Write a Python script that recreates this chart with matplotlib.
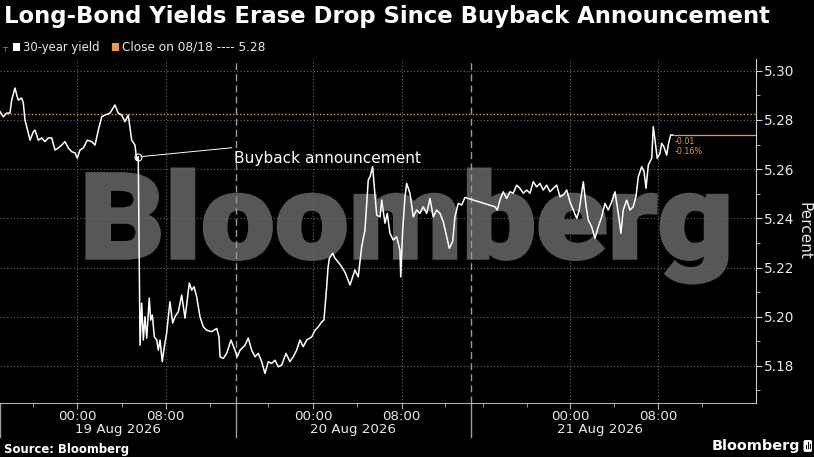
import matplotlib
matplotlib.use("Agg")
import matplotlib.pyplot as plt
from matplotlib.textpath import TextPath
from matplotlib.patches import PathPatch, Rectangle, FancyBboxPatch
from matplotlib.font_manager import FontProperties
from matplotlib.transforms import Affine2D

# ---------------- data (session hours on a compressed intraday axis) ----------------
hours = [0.00, 0.30, 0.61, 0.91, 1.06, 1.36, 1.52, 1.66, 1.97, 2.12, 2.27, 2.43, 2.73, 3.03, 3.18,
         3.48, 3.79, 4.09, 4.39, 4.70, 5.00, 5.30, 5.61, 5.91, 6.21, 6.52, 6.82, 7.03, 7.27, 7.57,
         7.94, 8.34, 8.64, 8.94, 9.25, 9.55, 10.00, 10.45, 10.75, 11.06, 11.36, 11.66, 11.97, 12.27,
         12.43, 12.57, 12.73, 12.88, 13.03, 13.18, 13.34, 13.57, 13.70, 13.85, 14.03, 14.25, 14.39,
         14.55, 14.75, 14.94, 15.15, 15.45, 15.70, 15.91, 16.21, 16.52, 16.82, 17.21, 17.43, 17.64,
         17.88, 18.18, 18.48, 18.79, 19.25, 19.70, 19.91, 20.00, 20.30, 20.61, 21.00, 21.36, 21.57,
         21.82, 22.27, 22.57, 22.88, 23.18, 23.48, 23.79, 24.09, 24.39, 24.70, 25.00, 25.30, 25.61,
         26.00, 26.36, 26.66, 26.97, 27.27, 27.57, 27.88, 28.34, 28.64, 28.94, 29.25, 29.45, 29.70,
         29.82, 29.94, 30.25, 30.45, 30.75, 31.06, 31.36, 31.82, 32.27, 32.57, 32.88, 33.18, 33.48,
         33.64, 33.88, 34.00, 34.25, 34.55, 34.70, 35.00, 35.21, 35.45, 35.75, 36.06, 36.36, 36.43,
         36.61, 36.82, 36.97, 37.27, 37.57, 37.88, 38.18, 38.48, 38.79, 39.09, 39.39, 39.70, 40.00,
         40.30, 40.61, 40.85, 41.15, 41.36, 41.66, 41.97, 42.27, 45.00, 45.21, 45.45, 45.75, 46.06,
         46.36, 46.66, 46.97, 47.27, 47.57, 47.88, 48.18, 48.48, 48.79, 49.09, 49.39, 49.70, 50.00,
         50.30, 50.61, 50.91, 51.21, 51.52, 51.82, 52.12, 52.43, 52.66, 52.88, 53.03, 53.27, 53.48,
         53.79, 54.09, 54.39, 54.70, 55.00, 55.30, 55.61, 55.91, 56.21, 56.45, 56.66, 56.97, 57.27,
         57.57, 57.82, 58.03, 58.34, 58.55, 58.73, 58.94, 59.25, 59.39, 59.55, 59.75, 60.00, 60.15,
         60.36, 60.61, 60.75, 60.97, 61.15]
yields = [5.2834, 5.2813, 5.2828, 5.2828, 5.2881, 5.2930, 5.2902, 5.2881, 5.2889, 5.2869, 5.2800,
          5.2773, 5.2718, 5.2752, 5.2759, 5.2718, 5.2727, 5.2712, 5.2727, 5.2727, 5.2678, 5.2686,
          5.2698, 5.2712, 5.2686, 5.2671, 5.2666, 5.2645, 5.2678, 5.2686, 5.2718, 5.2712, 5.2698,
          5.2759, 5.2813, 5.2820, 5.2828, 5.2861, 5.2828, 5.2820, 5.2793, 5.2820, 5.2718, 5.2698,
          5.2637, 5.2651, 5.1884, 5.2055, 5.1905, 5.2000, 5.1913, 5.2076, 5.1986, 5.2007, 5.1918,
          5.1905, 5.1864, 5.1905, 5.1817, 5.1878, 5.1933, 5.2061, 5.1974, 5.2000, 5.2020, 5.2088,
          5.1994, 5.2137, 5.2108, 5.2122, 5.2081, 5.2000, 5.1959, 5.1945, 5.1939, 5.1952, 5.1918,
          5.1837, 5.1830, 5.1851, 5.1905, 5.1864, 5.1837, 5.1864, 5.1884, 5.1913, 5.1864, 5.1837,
          5.1851, 5.1817, 5.1769, 5.1817, 5.1810, 5.1823, 5.1796, 5.1803, 5.1851, 5.1817, 5.1837,
          5.1864, 5.1905, 5.1878, 5.1905, 5.1918, 5.1945, 5.1959, 5.1979, 5.1986, 5.2122, 5.2198,
          5.2237, 5.2258, 5.2238, 5.2222, 5.2203, 5.2181, 5.2129, 5.2190, 5.2162, 5.2284, 5.2352,
          5.2556, 5.2569, 5.2610, 5.2542, 5.2413, 5.2406, 5.2474, 5.2380, 5.2420, 5.2339, 5.2312,
          5.2325, 5.2271, 5.2162, 5.2352, 5.2488, 5.2542, 5.2502, 5.2406, 5.2434, 5.2420, 5.2447,
          5.2420, 5.2481, 5.2406, 5.2434, 5.2420, 5.2386, 5.2325, 5.2278, 5.2305, 5.2406, 5.2461,
          5.2454, 5.2485, 5.2447, 5.2434, 5.2474, 5.2508, 5.2481, 5.2508, 5.2502, 5.2535, 5.2522,
          5.2502, 5.2515, 5.2502, 5.2549, 5.2528, 5.2542, 5.2515, 5.2535, 5.2508, 5.2522, 5.2535,
          5.2488, 5.2495, 5.2515, 5.2467, 5.2434, 5.2400, 5.2434, 5.2502, 5.2549, 5.2454, 5.2393,
          5.2366, 5.2319, 5.2366, 5.2406, 5.2461, 5.2434, 5.2467, 5.2508, 5.2420, 5.2339, 5.2434,
          5.2474, 5.2434, 5.2447, 5.2488, 5.2569, 5.2610, 5.2590, 5.2522, 5.2617, 5.2644, 5.2773,
          5.2718, 5.2644, 5.2664, 5.2705, 5.2691, 5.2657, 5.2698, 5.2739, 5.2739]
close_0818 = 5.2825
announce_index = 45

major_tick_pos = [7.03, 15.06, 28.48, 36.52, 51.82, 59.82]
major_tick_labels = ["00:00", "08:00", "00:00", "08:00", "00:00", "08:00"]
minor_tick_pos = [3.03, 11.06, 19.09, 24.39, 32.43, 40.45, 43.88, 47.88, 55.82, 63.82]
day_breaks = [0.0, 21.45, 42.82]
day_labels = ["19 Aug 2026", "20 Aug 2026", "21 Aug 2026"]
day_label_pos = [10.76, 32.12, 54.52]
y_ticks = [5.18, 5.20, 5.22, 5.24, 5.26, 5.28, 5.30]
y_minor = [5.17, 5.19, 5.21, 5.23, 5.25, 5.27, 5.29]
x_range = (0.0, 68.73)
y_range = (5.1649, 5.3048)

title = "Long-Bond Yields Erase Drop Since Buyback Announcement"
ORANGE = "#ee9b33"
W, H = 814, 457

plt.rcParams["font.family"] = ["DejaVu Sans"]
fig = plt.figure(figsize=(W / 100, H / 100), dpi=100, facecolor="black")


def fx(x):
    return x / W


def fy(y):
    return 1 - y / H


ax = fig.add_axes([0, 54 / H, 756 / W, 344 / H])
ax.set_facecolor("black")
ax.set_xlim(*x_range)
ax.set_ylim(*y_range)
ax.set_axisbelow(True)

# watermark
tp = TextPath((0, 0), "Bloomberg", size=100, prop=FontProperties(family="Roboto", weight=900))
ext = tp.get_extents()
wx0, wx1, wy0, wy1 = 87, 727, H - 283, H - 169
tr = Affine2D().translate(-ext.x0, -ext.y0).scale((wx1 - wx0) / ext.width,
                                                    (wy1 - wy0) / ext.height).translate(wx0, wy0)
wm = PathPatch(tp, transform=tr, facecolor="#575757", edgecolor="#575757", linewidth=2.2,
               zorder=0.2)
ax.add_artist(wm)

# grid
ax.grid(True, which="major", axis="both", color="#6a6a6a", linestyle=(0, (1, 2)), linewidth=0.8)

# day separators
for i, b in enumerate(day_breaks):
    if b > x_range[0]:
        ax.axvline(b, color="#9a9a9a", linestyle=(0, (5, 3)), linewidth=1.0, zorder=1)
    ax.plot([b, b], [-0.10, 0], transform=ax.get_xaxis_transform(), color="#9a9a9a",
            linewidth=1.0, clip_on=False)

# close line
ax.axhline(close_0818, color=ORANGE, linestyle=(0, (1, 1.5)), linewidth=1.0, zorder=2)

# series
ax.plot(hours, yields, color="white", linewidth=1.1, zorder=3)

# last value marker
last_h, last_v = hours[-1], yields[-1]
ax.plot([last_h, x_range[1]], [last_v, last_v], color=ORANGE, linewidth=0.9, zorder=2)
chg = last_v - close_0818
pct = chg / close_0818 * 100
ax.text(last_h + 0.2, 5.2714, f"{chg:.2f}", color=ORANGE, fontsize=5.8, va="center", ha="left")
ax.text(last_h + 0.2, 5.2670, f"{pct:.2f}%", color=ORANGE, fontsize=5.8, va="center", ha="left")

# annotation
ah, av = hours[announce_index], yields[announce_index]
ax.plot([ah], [av], marker="o", markersize=5, markerfacecolor="none", markeredgecolor="white",
        markeredgewidth=0.8, zorder=4)
ax.plot([ah + 0.25, 21.06], [av, 5.2687], color="white", linewidth=0.7, zorder=4)
ann = ax.text(21.27, 5.2625, "Buyback announcement", color="white", fontsize=11.2, va="baseline",
              ha="left", zorder=5)

# axes styling
for s in ["top", "left"]:
    ax.spines[s].set_visible(False)
ax.spines["right"].set_color("#cfcfcf")
ax.spines["bottom"].set_color("#b0b0b0")
ax.yaxis.tick_right()
ax.set_yticks(y_ticks)
ax.set_yticklabels([f"{v:.2f}" for v in y_ticks])
ax.set_yticks(y_minor, minor=True)
ax.set_xticks(major_tick_pos)
ax.set_xticklabels(major_tick_labels)
ax.set_xticks(minor_tick_pos, minor=True)
ax.tick_params(axis="y", which="major", length=4, color="#cfcfcf", labelcolor="#e8e8e8",
               labelsize=9.8, pad=2)
ax.tick_params(axis="y", which="minor", length=3, color="#cfcfcf")
ax.tick_params(axis="x", which="major", length=4, color="#b0b0b0", labelcolor="#e8e8e8",
               labelsize=9.6, pad=1)
ax.tick_params(axis="x", which="minor", length=3, color="#b0b0b0")
ax.yaxis.set_label_position("right")
ax.set_ylabel("Percent", color="#e8e8e8", fontsize=11, rotation=-90, labelpad=12)

for p, lab in zip(day_label_pos, day_labels):
    ax.text(p, -(430 - 403) / 344, lab, transform=ax.get_xaxis_transform(), ha="center",
            va="center", color="#e8e8e8", fontsize=9.6)

# title & legend
t_title = fig.text(fx(4), fy(16), title, color="white", fontsize=16.5, fontweight="bold",
                   va="center", ha="left")
fig.text(fx(5), fy(47.5), "\u252c", color="#8a8a8a", fontsize=6, va="center", ha="center")
fig.add_artist(Rectangle((fx(12.7), fy(50.7)), 7.3 / W, 7.3 / H, transform=fig.transFigure,
                         facecolor="white", edgecolor="none"))
leg1 = fig.text(fx(22.7), fy(47), "30-year yield", color="#e8e8e8", fontsize=8.3, va="center",
                ha="left")
fig.add_artist(Rectangle((fx(111.7), fy(50.7)), 7.3 / W, 7.3 / H, transform=fig.transFigure,
                         facecolor=ORANGE, edgecolor="none"))
leg2 = fig.text(fx(121.7), fy(47), f"Close on 08/18 ---- {close_0818:.2f}", color="#e8e8e8",
                fontsize=8.3, va="center", ha="left")

# footer
src = fig.text(fx(4), fy(452.5), "Source: Bloomberg", color="white", fontsize=8.4,
               fontweight="bold", va="baseline", ha="left")
logo = fig.text(fx(800), fy(446), "Bloomberg", color="white", fontsize=10.3, fontweight="bold",
                va="center", ha="right")
fig.add_artist(FancyBboxPatch((fx(803.5), fy(452)), 8.5 / W, 12 / H, transform=fig.transFigure,
                              boxstyle="round,pad=0,rounding_size=0.003", facecolor="white",
                              edgecolor="none"))
for bx, bh in [(805.5, 4), (807.5, 7), (809.5, 5)]:
    fig.add_artist(Rectangle((fx(bx), fy(449)), 1.2 / W, bh / H, transform=fig.transFigure,
                             facecolor="black", edgecolor="none"))

# fit widths of texts to the reference
fig.canvas.draw()
r = fig.canvas.get_renderer()
for t, target in [(t_title, 763), (ann, 186), (leg1, 76.5), (leg2, 141.5), (src, 125), (logo, 88)]:
    w = t.get_window_extent(r).width
    t.set_fontsize(t.get_fontsize() * target / w)

fig.savefig("out.png", dpi=100, facecolor="black")
